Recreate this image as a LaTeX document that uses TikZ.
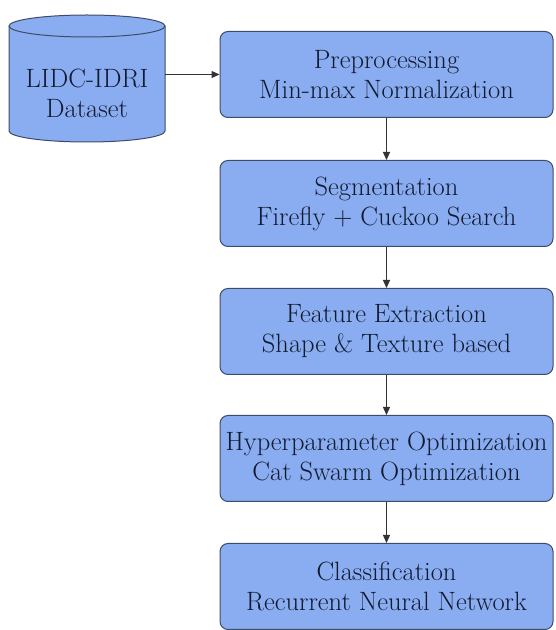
\documentclass[tikz,border=0pt]{standalone}
\usepackage{fontspec}
\usetikzlibrary{arrows.meta}
\definecolor{boxfill}{RGB}{137,173,240}
\definecolor{boxline}{RGB}{62,76,106}
\definecolor{txt}{RGB}{18,26,48}
\definecolor{arrcol}{RGB}{50,50,55}
\tikzset{
  stage/.style={draw=boxline, fill=boxfill, line width=1pt, rounded corners=8pt,
    minimum width=333pt, minimum height=86pt, inner sep=0pt},
  stagetext/.style={text=txt, align=center, font=\rmfamily\fontsize{26.5pt}{30pt}\selectfont, inner sep=0pt},
  arr/.style={draw=arrcol, line width=1.1pt, -{Triangle[length=8pt,width=7pt]}}
}
\begin{document}
\begin{tikzpicture}[x=1pt,y=1pt]
\useasboundingbox (0,0) rectangle (555,630);
% cylinder (database)
\filldraw[draw=boxline, fill=boxfill, line width=1pt]
  (9,604) -- (9,499) arc[start angle=180,end angle=360,x radius=78pt,y radius=11pt]
  -- (165,604) arc[start angle=0,end angle=180,x radius=78pt,y radius=11pt] -- cycle;
\draw[draw=boxline, line width=1pt]
  (9,604) arc[start angle=180,end angle=360,x radius=78pt,y radius=11pt];
\node[minimum width=156pt, minimum height=105pt, inner sep=0pt] (db) at (87,551.5) {};
\node[stagetext] (dbt) at (87,537) {LIDC-IDRI\\Dataset};
% stages
\node[stage] (p1) at (386.5,555.5) {};
\node[stagetext] (t1) at (p1) {Preprocessing\\Min-max Normalization};
\node[stage] (p2) at (386.5,426.5) {};
\node[stagetext] (t2) at (p2) {Segmentation\\Firefly + Cuckoo Search};
\node[stage] (p3) at (386.5,298.5) {};
\node[stagetext] (t3) at (p3) {Feature Extraction\\Shape \& Texture based};
\node[stage] (p4) at (386.5,171.5) {};
\node[stagetext] (t4) at (p4) {Hyperparameter Optimization\\Cat Swarm Optimization};
\node[stage] (p5) at (386.5,43.5) {};
\node[stagetext] (t5) at (p5) {Classification\\Recurrent Neural Network};
% connectors
\draw[arr] (db.east |- p1.west) -- (p1.west);
\draw[arr] (p1.south) -- (p2.north);
\draw[arr] (p2.south) -- (p3.north);
\draw[arr] (p3.south) -- (p4.north);
\draw[arr] (p4.south) -- (p5.north);
\end{tikzpicture}
\end{document}
